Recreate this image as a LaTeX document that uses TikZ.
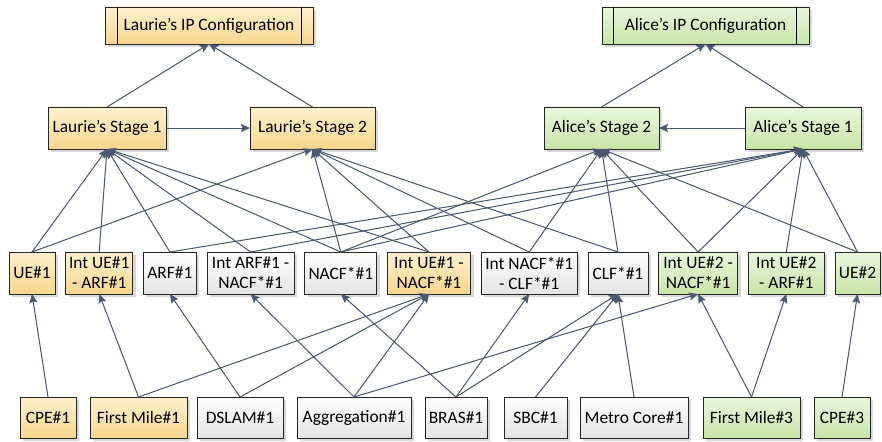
\documentclass[tikz,border=0pt]{standalone}
\usepackage{fontspec}
\setmainfont{Carlito}
\usetikzlibrary{arrows.meta,positioning,shadows}
\definecolor{laurietop}{HTML}{FFF1CF}
\definecolor{lauriebot}{HTML}{F8D68C}
\definecolor{alicetop}{HTML}{EAF6DE}
\definecolor{alicebot}{HTML}{C8E6A6}
\definecolor{sharedtop}{HTML}{FFFFFF}
\definecolor{sharedbot}{HTML}{E4E4E4}
\definecolor{depline}{HTML}{4B5970}
\tikzset{
    netbox/.style={draw=black!85, line width=0.8pt, align=center, inner sep=2pt, outer sep=0pt,
        font=\fontsize{17.4}{20}\selectfont,
        drop shadow={shadow xshift=3pt, shadow yshift=-3pt, fill=black!30}},
    cfgbox/.style={netbox, minimum height=37pt},
    stagebox/.style={netbox, minimum height=42pt},
    funcbox/.style={netbox, minimum height=42pt},
    linkbox/.style={netbox, minimum height=41pt},
    laurie/.style={top color=laurietop, bottom color=lauriebot},
    alice/.style={top color=alicetop, bottom color=alicebot},
    shared/.style={top color=sharedtop, bottom color=sharedbot},
    deparrow/.style={-{Stealth[length=9pt, width=8pt, inset=1.5pt]}, line width=1pt, draw=depline, fill=depline}
}
\begin{document}
\begin{tikzpicture}[x=1pt, y=-1pt, node distance=10.7pt]
\useasboundingbox (0,0) rectangle (882,441);
\node[cfgbox, laurie, minimum width=208pt] (lipc) at (209,25.5) {Laurie’s IP Configuration};
\node[cfgbox, alice, minimum width=207pt] (aipc) at (705.5,25.5) {Alice’s IP Configuration};
\draw[line width=0.8pt] ([xshift=12pt]lipc.north west) -- ([xshift=12pt]lipc.south west);
\draw[line width=0.8pt] ([xshift=-12pt]lipc.north east) -- ([xshift=-12pt]lipc.south east);
\draw[line width=0.8pt] ([xshift=11pt]aipc.north west) -- ([xshift=11pt]aipc.south west);
\draw[line width=0.8pt] ([xshift=-13pt]aipc.north east) -- ([xshift=-13pt]aipc.south east);

\node[stagebox, laurie, minimum width=118pt] (lone) at (107,128) {Laurie’s Stage 1};
\node[stagebox, laurie, minimum width=125pt, right=84pt of lone] (ltwo) {Laurie’s Stage 2};
\node[stagebox, alice, minimum width=115pt, right=169pt of ltwo] (atwo) {Alice’s Stage 2};
\node[stagebox, alice, minimum width=116pt, right=86pt of atwo] (aone) {Alice’s Stage 1};

\node[funcbox, laurie, minimum width=46pt] (ueone) at (32,273) {UE\#1};
\node[funcbox, laurie, minimum width=67pt, right=of ueone] (intueonearf) {Int UE\#1\\- ARF\#1};
\node[funcbox, shared, minimum width=53pt, right=of intueonearf] (arf) {ARF\#1};
\node[funcbox, shared, minimum width=87pt, right=of arf] (intarfnacf) {Int ARF\#1 -\\NACF*\#1};
\node[funcbox, shared, minimum width=72pt, right=of intarfnacf] (nacf) {NACF*\#1};
\node[funcbox, laurie, minimum width=83pt, right=of nacf] (intueonenacf) {Int UE\#1 -\\NACF*\#1};
\node[funcbox, shared, minimum width=96pt, right=of intueonenacf] (intnacfclf) {Int NACF*\#1\\- CLF*\#1};
\node[funcbox, shared, minimum width=60pt, right=of intnacfclf] (clf) {CLF*\#1};
\node[funcbox, alice, minimum width=79pt, right=of clf] (intuetwonacf) {Int UE\#2 -\\NACF*\#1};
\node[funcbox, alice, minimum width=76pt, right=of intuetwonacf] (intuetwoarf) {Int UE\#2\\- ARF\#1};
\node[funcbox, alice, minimum width=45pt, right=of intuetwoarf] (uetwo) {UE\#2};

\node[linkbox, laurie, minimum width=56pt] (cpeone) at (48,417.5) {CPE\#1};
\node[linkbox, laurie, minimum width=97pt, right=14pt of cpeone] (fmone) {First Mile\#1};
\node[linkbox, shared, minimum width=86pt, right=10pt of fmone] (dslam) {DSLAM\#1};
\node[linkbox, shared, minimum width=114pt, right=14pt of dslam] (aggr) {Aggregation\#1};
\node[linkbox, shared, minimum width=62pt, right=14pt of aggr] (bras) {BRAS\#1};
\node[linkbox, shared, minimum width=63pt, right=17pt of bras] (sbc) {SBC\#1};
\node[linkbox, shared, minimum width=108pt, right=13pt of sbc] (metro) {Metro Core\#1};
\node[linkbox, alice, minimum width=97pt, right=15pt of metro] (fmthree) {First Mile\#3};
\node[linkbox, alice, minimum width=56pt, right=14pt of fmthree] (cpethree) {CPE\#3};

\draw[deparrow] (lone) -- (ltwo);
\draw[deparrow] (aone) -- (atwo);
\draw[deparrow] (lone.north) -- (lipc.south);
\draw[deparrow] (ltwo.north) -- (lipc.south);
\draw[deparrow] (atwo.north) -- (aipc.south);
\draw[deparrow] (aone.north) -- (aipc.south);

\draw[deparrow] (ueone.north) -- (lone.south);
\draw[deparrow] (intueonearf.north) -- (lone.south);
\draw[deparrow] (arf.north) -- (lone.south);
\draw[deparrow] (intarfnacf.north) -- (lone.south);
\draw[deparrow] (nacf.north) -- (lone.south);
\draw[deparrow] (intueonenacf.north) -- (lone.south);
\draw[deparrow] (ueone.north) -- (ltwo.south);
\draw[deparrow] (nacf.north) -- (ltwo.south);
\draw[deparrow] (intueonenacf.north) -- (ltwo.south);
\draw[deparrow] (intnacfclf.north) -- (ltwo.south);
\draw[deparrow] (clf.north) -- (ltwo.south);
\draw[deparrow] (uetwo.north) -- (aone.south);
\draw[deparrow] (intuetwoarf.north) -- (aone.south);
\draw[deparrow] (intuetwonacf.north) -- (aone.south);
\draw[deparrow] (arf.north) -- (aone.south);
\draw[deparrow] (intarfnacf.north) -- (aone.south);
\draw[deparrow] (nacf.north) -- (aone.south);
\draw[deparrow] (uetwo.north) -- (atwo.south);
\draw[deparrow] (intuetwonacf.north) -- (atwo.south);
\draw[deparrow] (clf.north) -- (atwo.south);
\draw[deparrow] (intnacfclf.north) -- (atwo.south);
\draw[deparrow] (nacf.north) -- (atwo.south);

\draw[deparrow] (cpeone.north) -- (ueone.south);
\draw[deparrow] (fmone.north) -- (intueonearf.south);
\draw[deparrow] (fmone.north) -- (intueonenacf.south);
\draw[deparrow] (dslam.north) -- (arf.south);
\draw[deparrow] (dslam.north) -- (intueonenacf.south);
\draw[deparrow] (aggr.north) -- (intarfnacf.south);
\draw[deparrow] (aggr.north) -- (intueonenacf.south);
\draw[deparrow] (aggr.north) -- (intuetwonacf.south);
\draw[deparrow] (bras.north) -- (nacf.south);
\draw[deparrow] (bras.north) -- (intnacfclf.south);
\draw[deparrow] (bras.north) -- (clf.south);
\draw[deparrow] (sbc.north) -- (clf.south);
\draw[deparrow] (metro.north) -- (clf.south);
\draw[deparrow] (fmthree.north) -- (intuetwonacf.south);
\draw[deparrow] (fmthree.north) -- (intuetwoarf.south);
\draw[deparrow] (cpethree.north) -- (uetwo.south);
\end{tikzpicture}
\end{document}
